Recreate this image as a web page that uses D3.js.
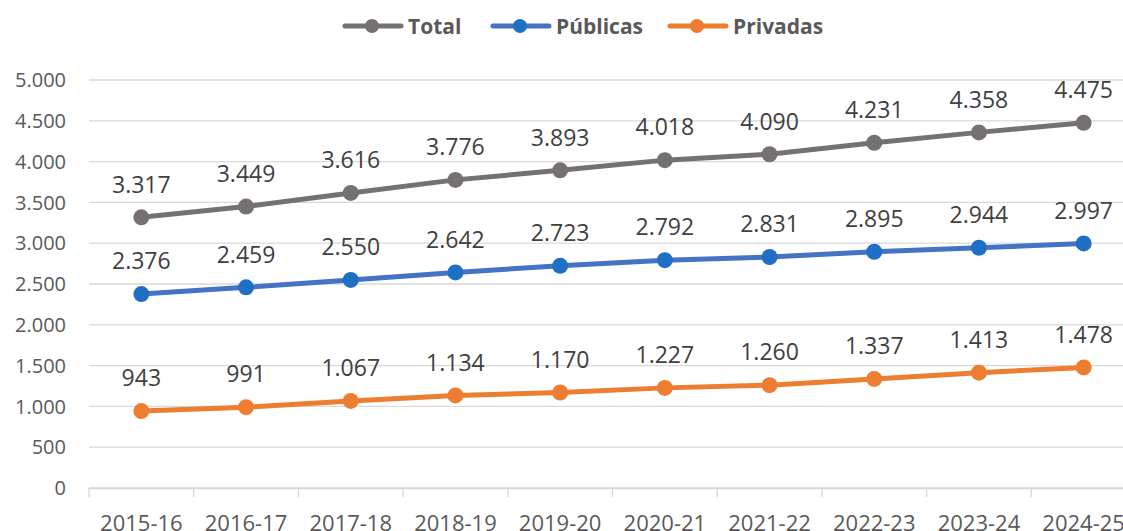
<!DOCTYPE html>
<html>
<head>
<meta charset="utf-8">
<script src="https://cdn.jsdelivr.net/npm/d3@7"></script>
<style>
  body { margin: 0; background: #fff; }
  svg { display: block; font-family: "Open Sans", sans-serif; }
</style>
</head>
<body>
<div id="chart"></div>
<script>
var categories = ["2015-16", "2016-17", "2017-18", "2018-19", "2019-20", "2020-21", "2021-22", "2022-23", "2023-24", "2024-25"];
var total = [3317, 3449, 3616, 3776, 3893, 4018, 4090, 4231, 4358, 4475];
var publicas = [2376, 2459, 2550, 2642, 2723, 2792, 2831, 2895, 2944, 2997];
var privadas = [943, 991, 1067, 1134, 1170, 1227, 1260, 1337, 1413, 1478];
var yTicks = [0, 500, 1000, 1500, 2000, 2500, 3000, 3500, 4000, 4500, 5000];

var series = [
  {name: "Total", values: total, line: "#767171", marker: "#767171"},
  {name: "Públicas", values: publicas, line: "#4472C4", marker: "#1F6FC5"},
  {name: "Privadas", values: privadas, line: "#ED7D31", marker: "#ED7D31"}
];

var W = 1123, H = 531;
var PLOT_LEFT = 89, PLOT_RIGHT = 1136, PLOT_TOP = 80, PLOT_BOTTOM = 488;

var fmt = function(v) { return d3.format(",")(v).replace(/,/g, "."); };

var svg = d3.select("#chart").append("svg").attr("width", W).attr("height", H);

var x = d3.scaleBand().domain(categories).range([PLOT_LEFT, PLOT_RIGHT]);
var y = d3.scaleLinear().domain([0, 5000]).range([PLOT_BOTTOM, PLOT_TOP]);

// gridlines
svg.append("g").selectAll("line").data(yTicks).enter().append("line")
  .attr("x1", PLOT_LEFT).attr("x2", PLOT_RIGHT)
  .attr("y1", function(d) { return y(d); }).attr("y2", function(d) { return y(d); })
  .attr("stroke", "#d9d9d9").attr("stroke-width", 1.3);

// y labels
svg.append("g").selectAll("text").data(yTicks).enter().append("text")
  .attr("x", 66).attr("y", function(d) { return y(d); })
  .attr("dy", "0.36em").attr("text-anchor", "end")
  .attr("font-size", 20).attr("fill", "#595959")
  .text(fmt);

// x axis
var xAxis = d3.axisBottom(x).tickSize(9).tickSizeOuter(0).tickFormat("");
var gx = svg.append("g").attr("transform", "translate(0," + PLOT_BOTTOM + ")").call(xAxis);
gx.select(".domain").attr("stroke", "#d9d9d9").attr("stroke-width", 1.3);
gx.selectAll(".tick line").attr("stroke", "#d9d9d9").attr("stroke-width", 1.3)
  .attr("transform", function() { return "translate(" + (-x.bandwidth() / 2) + ",0)"; });

svg.append("g").selectAll("text").data(categories).enter().append("text")
  .attr("x", function(d) { return x(d) + x.bandwidth() / 2; })
  .attr("y", 531).attr("text-anchor", "middle")
  .attr("font-size", 22).attr("fill", "#595959")
  .text(function(d) { return d; });

var line = d3.line()
  .x(function(d, i) { return x(categories[i]) + x.bandwidth() / 2; })
  .y(function(d) { return y(d); });

series.forEach(function(s) {
  var g = svg.append("g");
  g.append("path").datum(s.values)
    .attr("d", line).attr("fill", "none")
    .attr("stroke", s.line).attr("stroke-width", 5).attr("stroke-linejoin", "round");
  g.selectAll("circle").data(s.values).enter().append("circle")
    .attr("cx", function(d, i) { return x(categories[i]) + x.bandwidth() / 2; })
    .attr("cy", function(d) { return y(d); })
    .attr("r", 8).attr("fill", s.marker);
  g.selectAll("text").data(s.values).enter().append("text")
    .attr("x", function(d, i) { return x(categories[i]) + x.bandwidth() / 2; })
    .attr("y", function(d) { return y(d) - 33; })
    .attr("dy", "0.36em").attr("text-anchor", "middle")
    .attr("font-size", 23).attr("fill", "#404040")
    .text(fmt);
});

// legend
var legendX = [345, 493, 670];
var lg = svg.append("g");
series.forEach(function(s, i) {
  var lx = legendX[i];
  lg.append("line").attr("x1", lx).attr("x2", lx + 56).attr("y1", 26).attr("y2", 26)
    .attr("stroke", s.line).attr("stroke-width", 5).attr("stroke-linecap", "round");
  lg.append("circle").attr("cx", lx + 27).attr("cy", 26).attr("r", 7).attr("fill", s.marker);
  lg.append("text").attr("x", lx + 63).attr("y", 26).attr("dy", "0.36em")
    .attr("font-size", 21).attr("font-weight", "bold").attr("fill", "#595959")
    .text(s.name);
});
</script>
</body>
</html>
